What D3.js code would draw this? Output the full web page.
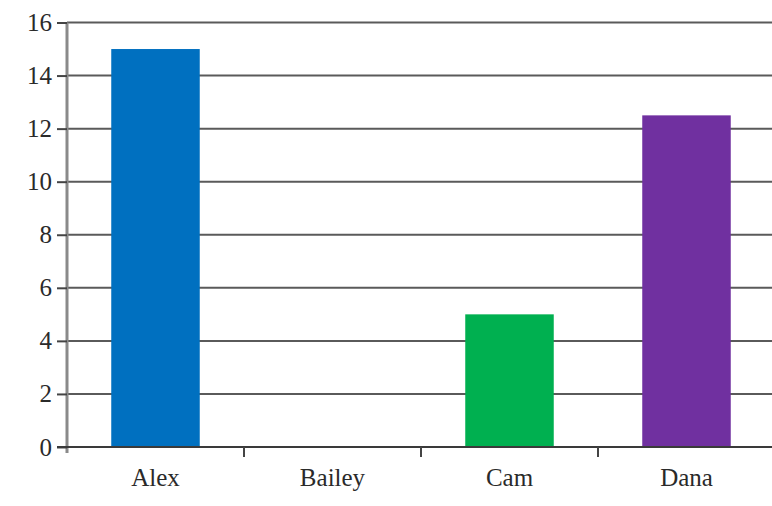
<!DOCTYPE html>
<html>
<head>
<meta charset="utf-8">
<script src="https://cdn.jsdelivr.net/npm/d3@7"></script>
<style>
  body { margin: 0; background: #fff; }
  svg { display: block; }
</style>
</head>
<body>
<svg id="container" width="772" height="506"></svg>
<script>
const names = ["Alex", "Bailey", "Cam", "Dana"];
const scores = [15, 0, 5, 12.5];
const barColors = ["#0070c0", "#0070c0", "#00b050", "#7030a0"];
const yTicks = [0, 2, 4, 6, 8, 10, 12, 14, 16];

const svg = d3.select("#container");
const plotLeft = 67, plotRight = 775, plotTop = 22.5, plotBottom = 447;

const x = d3.scaleBand().domain(names).range([plotLeft, plotRight]).paddingInner(0.5).paddingOuter(0.25);
const y = d3.scaleLinear().domain([0, 16]).range([plotBottom, plotTop]);

// gridlines
svg.append("g")
  .selectAll("line")
  .data(yTicks.filter(d => d > 0))
  .join("line")
  .attr("x1", plotLeft)
  .attr("x2", 772)
  .attr("y1", d => y(d))
  .attr("y2", d => y(d))
  .attr("stroke", "#5a5a5a")
  .attr("stroke-width", 2);

// bars
svg.append("g")
  .selectAll("rect")
  .data(names)
  .join("rect")
  .attr("x", d => x(d))
  .attr("width", x.bandwidth())
  .attr("y", (d, i) => y(scores[i]))
  .attr("height", (d, i) => plotBottom - y(scores[i]))
  .attr("fill", (d, i) => barColors[i]);

// y axis
const yAxis = svg.append("g")
  .attr("transform", `translate(${plotLeft},0)`)
  .call(d3.axisLeft(y).tickValues(yTicks).tickSize(10).tickPadding(5));
yAxis.select(".domain").attr("stroke", "#8a8a8a").attr("stroke-width", 3)
  .attr("d", `M0,${plotTop}V${plotBottom + 6}`);
yAxis.selectAll(".tick line").attr("stroke", "#444").attr("stroke-width", 2);

// x axis
const xBoundaries = d3.scaleLinear().domain([0, 4]).range([plotLeft, plotRight]);
const xAxis = svg.append("g")
  .attr("transform", `translate(0,${plotBottom})`);
xAxis.append("line")
  .attr("x1", plotLeft - 10).attr("x2", 772)
  .attr("stroke", "#3a3a3a").attr("stroke-width", 2);
xAxis.selectAll(".sep")
  .data([1, 2, 3])
  .join("line")
  .attr("class", "sep")
  .attr("x1", d => xBoundaries(d)).attr("x2", d => xBoundaries(d))
  .attr("y1", 0).attr("y2", 10)
  .attr("stroke", "#444").attr("stroke-width", 2);
xAxis.selectAll("text")
  .data(names)
  .join("text")
  .attr("x", d => x(d) + x.bandwidth() / 2)
  .attr("y", 39)
  .attr("text-anchor", "middle")
  .text(d => d);

svg.selectAll("text")
  .attr("font-family", "'Liberation Serif', 'Times New Roman', serif")
  .attr("font-size", 25)
  .attr("fill", "#2a2a2a");
</script>
</body>
</html>
